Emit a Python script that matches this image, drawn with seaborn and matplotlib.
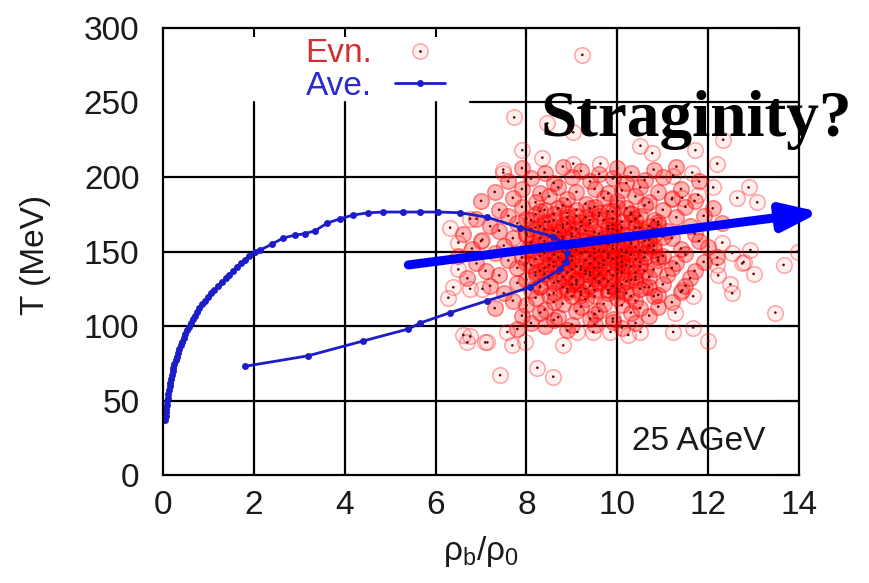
import matplotlib
matplotlib.use("Agg")
import matplotlib.pyplot as plt
import pandas as pd
import seaborn as sns
from matplotlib.lines import Line2D
from matplotlib.legend_handler import HandlerTuple
from matplotlib.patches import ArrowStyle

# ---------------- data ----------------
x_ticks = [0, 2, 4, 6, 8, 10, 12, 14]
y_ticks = [0, 50, 100, 150, 200, 250, 300]

# averaged trajectory (rho_b/rho_0, T)
ave_rho = [0.05, 0.055, 0.06, 0.07, 0.08, 0.09, 0.10, 0.115, 0.13, 0.145, 0.16, 0.175,
           0.19, 0.21, 0.23, 0.25, 0.28, 0.30, 0.33, 0.36, 0.39, 0.42, 0.46, 0.49,
           0.53, 0.57, 0.61, 0.65, 0.70, 0.75, 0.80, 0.86, 0.92, 0.99, 1.06, 1.13,
           1.21, 1.29, 1.38, 1.46, 1.55, 1.63, 1.72, 1.81, 1.90, 2.02,
           2.14, 2.40, 2.64, 2.90, 3.13, 3.35, 3.61, 3.90, 4.19, 4.52, 4.85, 5.29,
           5.66, 6.06, 6.54, 7.14, 7.86, 8.59, 8.85, 8.90, 8.88, 8.74, 8.08, 7.14,
           6.32, 5.66, 5.40, 4.41, 3.19, 1.81]
ave_T = [37, 39.5, 42, 44.5, 47, 49.5, 52, 54.5, 57, 59.5, 62, 64.5,
         67, 69.5, 72, 74.5, 77, 79.5, 82, 84.5, 87, 89.5, 92, 94.5,
         97, 99.5, 102, 104.5, 107, 109.5, 112, 114.5, 117, 119.5, 122, 124.5,
         127, 129.5, 132, 134.5, 137, 139.5, 142, 144.5, 147, 150,
         151, 155, 159, 161, 162, 164, 169, 172, 174.5, 176, 176.5, 176.5,
         176.5, 176.5, 176, 173, 166, 160, 155, 149, 143, 138, 126, 117,
         109, 102, 98, 90, 80, 73]

# event-by-event points: sparse outer points
evn_outer = [(9.23, 282), (7.73, 240), (8.46, 236), (9.03, 230), (7.91, 218), (8.35, 213),
             (9.03, 209), (7.49, 203), (9.63, 209), (10.51, 221), (10.77, 216), (12.33, 225),
             (12.2, 209), (11.65, 203), (11.23, 201), (12.89, 193), (11.72, 218), (12.11, 193),
             (13.08, 183), (12.64, 186), (13.66, 141), (13.0, 135), (12.75, 142), (13.48, 109),
             (12.49, 128), (12.53, 122), (12.93, 151), (13.97, 150), (12.31, 156), (12.53, 149),
             (12.78, 143), (12.22, 134), (12.2, 141), (11.67, 120), (11.28, 109), (11.23, 96),
             (11.67, 99), (12.0, 90), (11.43, 186), (11.78, 188), (11.21, 186), (10.24, 94),
             (10.51, 96), (7.42, 67), (8.24, 72), (8.59, 66), (8.81, 87), (6.7, 89), (7.14, 89),
             (7.97, 89), (7.58, 96), (9.85, 96), (9.47, 96), (9.12, 96), (7.69, 87), (6.32, 166),
             (6.5, 156), (6.76, 172), (7.03, 158), (6.5, 138), (6.28, 119), (6.39, 126),
             (6.76, 125), (7.03, 125), (6.76, 93), (6.61, 94), (7.09, 89), (7.49, 205),
             (11.43, 124)]

# main cloud
evn_core_a = [
    (7.9, 206), (8.4, 203), (8.8, 207), (9.2, 204), (9.6, 202), (10.0, 206), (10.3, 203), (10.8, 205), (11.3, 207),
    (7.6, 197), (8.1, 199), (8.6, 196), (9.0, 200), (9.4, 197), (9.9, 199), (10.2, 196), (10.6, 198), (11.0, 200), (11.8, 197),
    (7.3, 190), (7.9, 192), (8.3, 189), (8.7, 193), (9.1, 190), (9.5, 192), (9.8, 189), (10.1, 191), (10.5, 193), (10.9, 190), (11.4, 192),
    (7.0, 184), (7.7, 186), (8.2, 183), (8.5, 187), (8.9, 185), (9.3, 182), (9.7, 186), (10.0, 184), (10.4, 187), (10.7, 183), (11.2, 185), (11.7, 184),
    (7.4, 178), (7.9, 180), (8.3, 177), (8.8, 181), (9.1, 178), (9.5, 180), (9.9, 177), (10.2, 179), (10.6, 181), (11.0, 178), (11.5, 180), (12.1, 179),
    (6.9, 172), (7.6, 174), (8.1, 171), (8.6, 175), (8.9, 173), (9.2, 170), (9.6, 174), (9.9, 172), (10.3, 175), (10.8, 171), (11.3, 173), (11.9, 174),
    (7.2, 167), (7.8, 169), (8.2, 166), (8.5, 170), (8.8, 168), (9.1, 165), (9.4, 169), (9.8, 167), (10.1, 170), (10.5, 166), (10.9, 168), (11.6, 167), (12.3, 169),
    (6.6, 162), (7.4, 164), (8.0, 161), (8.4, 165), (8.7, 163), (9.0, 160), (9.3, 164), (9.6, 162), (9.9, 165), (10.2, 161), (10.6, 163), (11.1, 164), (11.7, 162),
    (7.0, 157), (7.7, 159), (8.1, 156), (8.5, 160), (8.8, 158), (9.1, 155), (9.4, 159), (9.7, 157), (10.0, 160), (10.3, 156), (10.7, 158), (11.2, 159), (11.8, 157),
    (6.8, 152), (7.5, 154), (8.0, 151), (8.3, 155), (8.6, 153), (8.9, 150), (9.2, 154), (9.5, 152), (9.8, 155), (10.1, 151), (10.4, 153), (10.8, 154), (11.4, 152), (12.0, 153),
    (6.5, 147), (7.3, 149), (7.9, 146), (8.3, 150), (8.6, 148), (8.9, 145), (9.2, 149), (9.4, 147), (9.7, 150), (10.0, 146), (10.3, 148), (10.6, 149), (11.0, 147), (11.5, 148), (12.2, 146),
    (6.9, 142), (7.6, 144), (8.1, 141), (8.5, 145), (8.8, 143), (9.1, 140), (9.3, 144), (9.6, 142), (9.9, 145), (10.2, 141), (10.5, 143), (10.9, 144), (11.3, 142), (11.9, 143),
    (7.1, 137), (7.8, 139), (8.2, 136), (8.6, 140), (9.0, 138), (9.3, 135), (9.5, 139), (9.8, 137), (10.1, 140), (10.4, 136), (10.8, 138), (11.2, 139), (11.7, 137),
    (6.7, 132), (7.4, 134), (8.0, 131), (8.4, 135), (8.8, 133), (9.1, 130), (9.4, 134), (9.7, 132), (10.0, 135), (10.3, 131), (10.7, 133), (11.1, 134), (11.6, 132),
    (7.2, 127), (7.8, 129), (8.3, 126), (8.7, 130), (9.0, 128), (9.3, 125), (9.6, 129), (9.9, 127), (10.2, 130), (10.6, 126), (11.0, 128), (11.5, 127),
    (7.5, 122), (8.1, 124), (8.5, 121), (8.9, 125), (9.2, 123), (9.5, 120), (9.8, 124), (10.2, 122), (10.5, 125), (10.9, 121), (11.4, 123),
    (7.7, 117), (8.2, 119), (8.6, 116), (9.0, 120), (9.3, 118), (9.7, 115), (10.0, 119), (10.4, 117), (10.8, 120), (11.2, 116),
    (7.3, 112), (8.0, 114), (8.4, 111), (8.8, 115), (9.2, 113), (9.6, 110), (10.1, 114), (10.5, 112), (10.9, 113),
    (7.9, 107), (8.3, 109), (8.7, 106), (9.1, 110), (9.5, 108), (9.9, 105), (10.3, 109), (10.7, 107),
    (8.1, 102), (8.6, 104), (9.0, 101), (9.4, 105), (9.9, 103), (10.4, 102),
    (7.8, 98), (8.4, 100), (8.9, 97), (9.5, 101), (10.1, 99),
]

evn_core_b = [
    (8.4, 178), (8.9, 176), (9.4, 179), (9.8, 177), (10.3, 176),
    (8.0, 172), (8.6, 171), (9.3, 173), (9.7, 171), (10.4, 172), (10.9, 170),
    (8.3, 167), (8.8, 166), (9.2, 167), (9.8, 165), (10.1, 166), (10.7, 167),
    (8.0, 162), (8.6, 161), (9.0, 162), (9.5, 160), (9.9, 161), (10.5, 162), (11.0, 160),
    (8.4, 157), (8.7, 156), (9.3, 157), (9.6, 155), (10.0, 156), (10.6, 157),
    (8.1, 152), (8.5, 151), (9.0, 152), (9.3, 150), (9.6, 151), (9.9, 152), (10.2, 150), (10.8, 151),
    (8.3, 147), (8.7, 146), (9.0, 147), (9.5, 145), (9.8, 146), (10.1, 147), (10.6, 146),
    (8.0, 142), (8.5, 141), (8.9, 142), (9.2, 140), (9.7, 141), (10.0, 142), (10.5, 140),
    (8.3, 137), (8.9, 136), (9.3, 137), (9.6, 135), (10.1, 136), (10.6, 137),
    (8.5, 132), (9.1, 131), (9.5, 132), (9.8, 130), (10.4, 131),
    (8.3, 127), (8.8, 126), (9.4, 127), (10.0, 125), (10.7, 126),
    (8.6, 122), (9.2, 121), (9.8, 122), (10.3, 120),
]

evn_core_c = [
    (8.2, 175), (8.7, 179), (9.1, 174), (9.6, 176), (10.0, 180), (10.5, 174),
    (8.4, 170), (8.9, 169), (9.4, 171), (9.9, 168), (10.3, 170), (10.8, 165),
    (8.1, 165), (8.6, 164), (9.0, 166), (9.5, 163), (10.0, 164), (10.4, 166),
    (8.3, 159), (8.8, 160), (9.2, 158), (9.7, 159), (10.2, 158), (10.8, 161),
    (8.2, 154), (8.7, 155), (9.1, 153), (9.4, 156), (9.9, 154), (10.3, 155), (10.7, 154),
    (8.4, 149), (8.8, 150), (9.1, 151), (9.5, 149), (9.8, 148), (10.2, 149), (10.5, 151),
    (8.2, 145), (8.6, 143), (9.0, 144), (9.4, 142), (9.7, 144), (10.1, 143), (10.4, 145), (10.9, 146),
    (8.4, 139), (8.8, 140), (9.2, 138), (9.6, 139), (10.0, 138), (10.3, 140),
    (8.2, 134), (8.7, 135), (9.0, 133), (9.4, 136), (9.9, 134), (10.4, 133),
    (8.6, 129), (9.1, 128), (9.6, 130), (10.1, 128),
    (8.9, 123), (9.5, 124), (10.0, 123),
]

arrow_start = (5.4, 141)
arrow_end = (14.47, 176.5)

# ---------------- style ----------------
sns.set_style("white")
plt.rcParams["font.family"] = ["Liberation Sans", "DejaVu Sans"]
plt.rcParams["mathtext.fontset"] = "custom"
plt.rcParams["mathtext.rm"] = "Liberation Sans"
plt.rcParams["mathtext.it"] = "Liberation Sans"

RED_EDGE = (1.0, 0.15, 0.15, 0.40)
RED_FACE = (1.0, 0.0, 0.0, 0.06)
CORE_EDGE = (1.0, 0.0, 0.0, 0.45)
CORE_FACE = (1.0, 0.0, 0.0, 0.28)
DOT = "#6e0000"
BLUE = "#1c1cc8"
FS = 24

fig = plt.figure(figsize=(8.7, 5.83), dpi=100)
fig.patch.set_facecolor("white")
ax = fig.add_axes([0.1874, 0.1852, 0.9184 - 0.1874, 0.952 - 0.1852])
ax.set_facecolor("white")

# grid (broken around the key area)
for gx in x_ticks[1:-1]:
    ax.axvline(gx, 0, 250 / 300 if gx < 7 else 1, color="black", lw=1.6, zorder=1)
for gy in y_ticks[1:-1]:
    ax.axhline(gy, 0.483 if gy == 250 else 0, 1, color="black", lw=1.6, zorder=1)

outer = pd.DataFrame(evn_outer, columns=["rho", "T"])
core = pd.DataFrame(evn_core_a + evn_core_b + evn_core_c, columns=["rho", "T"])
allpts = pd.concat([outer, core], ignore_index=True)

sns.scatterplot(data=outer, x="rho", y="T", ax=ax, marker="o", s=125,
                color=RED_FACE, edgecolor=RED_EDGE, linewidth=1.1, legend=False, zorder=2)
sns.scatterplot(data=core, x="rho", y="T", ax=ax, marker="o", s=125,
                color=CORE_FACE, edgecolor=CORE_EDGE, linewidth=1.1, legend=False, zorder=2)
sns.scatterplot(data=allpts, x="rho", y="T", ax=ax, marker="o", s=3.5,
                color=DOT, edgecolor="none", linewidth=0, legend=False, zorder=2.1)

ave = pd.DataFrame({"rho": ave_rho, "T": ave_T})
sns.lineplot(data=ave, x="rho", y="T", ax=ax, sort=False, estimator=None,
             color=BLUE, lw=2.0, marker="o", markersize=5, markeredgewidth=0, zorder=3)

ax.set_xlim(0, 14)
ax.set_ylim(0, 300)
ax.set_xticks(x_ticks)
ax.set_yticks(y_ticks)
ax.tick_params(axis="both", direction="in", top=True, right=True, labelsize=FS,
               colors="black", labelcolor="#1a1a1a", width=1.5)
ax.tick_params(axis="x", length=6.5, pad=11)
ax.tick_params(axis="y", length=16, pad=17)
for sp in ax.spines.values():
    sp.set_visible(True)
    sp.set_color("black")
    sp.set_linewidth(1.6)
    sp.set_zorder(5)

ax.set_xlabel(r"ρ$_\mathrm{b}$/ρ$_\mathrm{0}$", fontsize=FS, color="#1a1a1a")
ax.xaxis.set_label_coords(0.5, -0.132)
ax.set_ylabel("T (MeV)", fontsize=FS, color="#1a1a1a")
ax.yaxis.set_label_coords(-0.176, 0.492)

# key
evn_handle = (Line2D([], [], marker="o", ms=11, mfc=RED_FACE, mec=RED_EDGE, mew=1.1, ls="none"),
              Line2D([], [], marker="o", ms=2.0, mfc=DOT, mec="none", ls="none"))
ave_handle = Line2D([], [], color=BLUE, lw=2.0, marker="o", ms=5, mew=0)
leg = ax.legend([evn_handle, ave_handle], ["Evn.", "Ave."],
                handler_map={tuple: HandlerTuple(ndivide=1, pad=0)},
                markerfirst=False, frameon=False, loc="upper left",
                bbox_to_anchor=(0.223, 0.977), borderaxespad=0, borderpad=0,
                fontsize=FS, handlelength=1.5, handletextpad=0.7, labelspacing=0.05)
for txt, c in zip(leg.get_texts(), ["#d23030", "#2a2ad0"]):
    txt.set_color(c)

ax.text(10.33, 16.8, "25 AGeV", fontsize=FS, color="#1a1a1a", ha="left", va="baseline", zorder=6)

ax.annotate("", xy=arrow_end, xytext=arrow_start, annotation_clip=False, zorder=7,
            arrowprops=dict(arrowstyle=ArrowStyle("-|>", head_length=1.1, head_width=0.4),
                            mutation_scale=20, lw=6.5, color="#0000ff",
                            shrinkA=0, shrinkB=0))

fig.text(0.621, 0.7667, "Straginity?", fontsize=47, fontweight="bold",
         family=["Liberation Serif", "DejaVu Serif"], color="black",
         ha="left", va="baseline", zorder=10)

fig.savefig("out.png", dpi=100, facecolor="white")
